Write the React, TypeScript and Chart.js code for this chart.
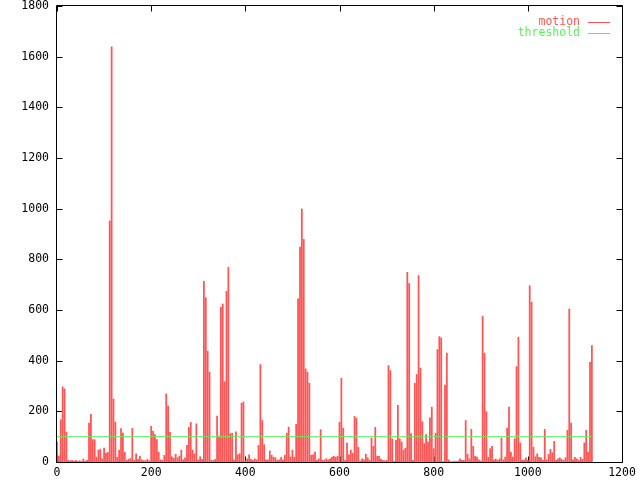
import React, { useEffect, useRef } from "react";
import { Chart, registerables } from "chart.js";

Chart.register(...registerables);

// Motion values, one per 4 frames (frame = index * FRAME_STEP)
const FRAME_STEP = 4;
const motionValues: number[] = [
  80, 25, 168, 298, 290, 120, 8, 6, 8, 5, 8, 5, 6, 5, 13, 5, 8, 155, 189, 90,
  89, 21, 48, 52, 14, 56, 37, 39, 953, 1640, 250, 159, 20, 48, 133, 115, 40, 8, 12, 15,
  134, 8, 34, 12, 24, 10, 7, 7, 12, 6, 142, 122, 110, 90, 40, 10, 8, 28, 270, 222,
  118, 22, 16, 32, 18, 24, 48, 10, 18, 67, 138, 158, 48, 34, 152, 10, 22, 12, 714, 650,
  439, 356, 8, 7, 12, 183, 104, 612, 625, 319, 675, 770, 113, 115, 10, 120, 30, 34, 234, 238,
  6, 14, 30, 12, 8, 14, 10, 67, 386, 165, 70, 10, 10, 45, 28, 20, 18, 8, 10, 20,
  10, 28, 115, 139, 21, 48, 20, 150, 645, 850, 1000, 880, 369, 356, 312, 28, 30, 40, 8, 14,
  129, 8, 10, 14, 10, 14, 21, 24, 20, 24, 158, 332, 135, 8, 76, 30, 48, 36, 181, 175,
  60, 5, 14, 10, 32, 18, 8, 96, 63, 138, 24, 24, 13, 8, 6, 8, 382, 362, 93, 4,
  87, 225, 93, 80, 48, 56, 750, 706, 113, 8, 312, 347, 737, 372, 161, 74, 110, 80, 176, 218,
  54, 115, 445, 496, 491, 3, 305, 431, 10, 3, 3, 5, 3, 5, 14, 8, 8, 165, 32, 14,
  130, 63, 24, 21, 10, 5, 577, 431, 200, 20, 54, 63, 10, 13, 8, 14, 96, 10, 21, 135,
  218, 40, 21, 93, 378, 494, 77, 8, 10, 18, 8, 697, 632, 60, 22, 34, 20, 18, 8, 130,
  10, 32, 51, 38, 83, 8, 14, 18, 12, 8, 18, 126, 605, 155, 10, 20, 14, 8, 20, 12,
  77, 126, 40, 395, 461,
];

const thresholdValue = 100;
const thresholdFrames = [0, 1136];

const xTicks = [0, 200, 400, 600, 800, 1000, 1200];
const yTicks = [0, 200, 400, 600, 800, 1000, 1200, 1400, 1600, 1800];

const seriesLabels = ["motion", "threshold"];
const RED = "#ff5555";
const GREEN = "#5cf05c";
const FONT = '"DejaVu Sans Mono", "Liberation Mono", monospace';

const framePlugin = {
  id: "gnuplotFrame",
  beforeDatasetsDraw(chart: any) {
    const { ctx, chartArea } = chart;
    const { left, top, right, bottom } = chartArea;
    const xs = chart.scales.x;
    const ys = chart.scales.y;
    ctx.save();
    ctx.strokeStyle = "#000";
    ctx.lineWidth = 1;
    ctx.beginPath();
    const L = Math.round(left) - 0.5;
    const R = Math.round(right) + 0.5;
    const T = Math.round(top) - 0.5;
    const B = Math.round(bottom) + 0.5;
    ctx.moveTo(L, T);
    ctx.lineTo(R, T);
    ctx.lineTo(R, B);
    ctx.lineTo(L, B);
    ctx.closePath();
    const tl = 6;
    xTicks.forEach((v) => {
      const px = Math.round(xs.getPixelForValue(v)) + 0.5;
      ctx.moveTo(px, B);
      ctx.lineTo(px, B - tl);
      ctx.moveTo(px, T);
      ctx.lineTo(px, T + tl);
    });
    yTicks.forEach((v) => {
      const py = Math.round(ys.getPixelForValue(v)) + 0.5;
      ctx.moveTo(L, py);
      ctx.lineTo(L + tl, py);
      ctx.moveTo(R, py);
      ctx.lineTo(R - tl, py);
    });
    ctx.stroke();
    ctx.restore();
  },
  afterDraw(chart: any) {
    const { ctx } = chart;
    ctx.save();
    ctx.font = `11.5px ${FONT}`;
    ctx.textAlign = "right";
    ctx.textBaseline = "middle";
    chart.data.datasets.forEach((ds: any, i: number) => {
      const y = 22 + i * 11;
      ctx.fillStyle = ds.legendColor;
      ctx.fillText(ds.label, 580, y);
      ctx.strokeStyle = ds.legendColor;
      ctx.lineWidth = 1;
      ctx.beginPath();
      ctx.moveTo(588, y + 0.5);
      ctx.lineTo(610, y + 0.5);
      ctx.stroke();
    });
    ctx.restore();
  },
};

export default function App() {
  const canvasRef = useRef<HTMLCanvasElement | null>(null);

  useEffect(() => {
    const canvas = canvasRef.current;
    if (!canvas) return;
    const motionData = motionValues.map((v, i) => ({ x: i * FRAME_STEP, y: v }));
    const thresholdData = thresholdFrames.map((f) => ({ x: f, y: thresholdValue }));

    const chart = new Chart(canvas, {
      type: "bar",
      data: {
        datasets: [
          {
            type: "bar",
            label: seriesLabels[0],
            data: motionData as any,
            backgroundColor: RED,
            borderWidth: 0,
            barPercentage: 0.95,
            categoryPercentage: 1,
            order: 1,
            legendColor: RED,
          } as any,
          {
            type: "line",
            label: seriesLabels[1],
            data: thresholdData as any,
            borderColor: GREEN,
            borderWidth: 1,
            pointRadius: 0,
            fill: false,
            order: 0,
            legendColor: GREEN,
          } as any,
        ],
      },
      options: {
        animation: false,
        responsive: false,
        devicePixelRatio: 1,
        layout: { padding: { left: 0, right: 18, top: 6, bottom: 0 } },
        plugins: {
          legend: { display: false },
          tooltip: { enabled: false },
        },
        scales: {
          x: {
            type: "linear",
            min: 0,
            max: 1200,
            offset: false,
            grid: { display: false, drawTicks: false, offset: false },
            border: { display: false },
            ticks: {
              stepSize: 200,
              padding: 4,
              color: "#000",
              font: { family: FONT, size: 11.5 },
              maxRotation: 0,
              callback: (v: any) => String(v),
            },
            afterFit: (s: any) => {
              s.height = 18;
              s.paddingLeft = 0;
              s.paddingRight = 0;
            },
          },
          y: {
            type: "linear",
            min: 0,
            max: 1800,
            grid: { display: false, drawTicks: false },
            border: { display: false },
            ticks: {
              stepSize: 200,
              padding: 8,
              color: "#000",
              font: { family: FONT, size: 11.5 },
              callback: (v: any) => String(v),
            },
            afterFit: (s: any) => {
              s.width = 57;
              s.paddingTop = 0;
              s.paddingBottom = 0;
            },
          },
        },
      },
      plugins: [framePlugin],
    });
    return () => chart.destroy();
  }, []);

  return (
    <div style={{ position: "absolute", left: 0, top: 0, width: 640, height: 480, background: "#fff" }}>
      <canvas ref={canvasRef} width={640} height={480} style={{ display: "block" }} />
    </div>
  );
}
